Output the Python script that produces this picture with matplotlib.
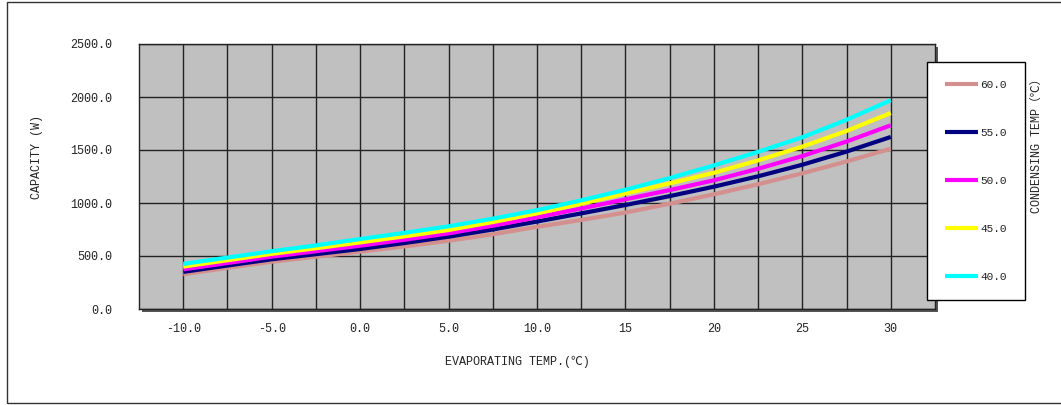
import matplotlib
matplotlib.use('Agg')
import matplotlib.pyplot as plt
from matplotlib.patches import Rectangle

# evaporating temperature (category axis, every 2.5 C)
evap_temp = [-10, -7.5, -5, -2.5, 0, 2.5, 5, 7.5, 10, 12.5, 15, 17.5, 20, 22.5, 25, 27.5, 30]

# capacity (W) per condensing temperature
cap_60 = [328, 388, 446, 493, 541, 590, 644, 705, 775, 840, 910, 993, 1082, 1177, 1280, 1392, 1512]
cap_55 = [350, 410, 469, 517, 566, 622, 682, 750, 825, 902, 981, 1065, 1154, 1252, 1361, 1485, 1623]
cap_50 = [374, 434, 494, 545, 597, 653, 714, 786, 865, 948, 1035, 1122, 1214, 1323, 1443, 1580, 1733]
cap_45 = [400, 460, 520, 573, 628, 685, 745, 820, 902, 993, 1090, 1185, 1285, 1402, 1532, 1680, 1849]
cap_40 = [425, 485, 545, 600, 660, 718, 780, 852, 932, 1025, 1125, 1235, 1355, 1483, 1620, 1785, 1970]

series_labels = ['60.0', '55.0', '50.0', '45.0', '40.0']
series_colors = ['#D4908E', '#000080', '#FF00FF', '#FFFF00', '#00FFFF']

x_ticks = [-10, -5, 0, 5, 10, 15, 20, 25, 30]
x_ticklabels = ['-10.0', '-5.0', '0.0', '5.0', '10.0', '15', '20', '25', '30']
y_ticks = [0, 500, 1000, 1500, 2000, 2500]
y_ticklabels = ['0.0', '500.0', '1000.0', '1500.0', '2000.0', '2500.0']

mono = ['Liberation Mono', 'DejaVu Sans Mono', 'Noto Sans CJK SC', 'DejaVu Sans']
txt_col = '#222222'

W, H = 1061, 405
fig = plt.figure(figsize=(W / 100, H / 100), dpi=100)
fig.patch.set_facecolor('white')

# outer chart border (right edge runs off the picture)
fig.patches.append(Rectangle((7 / W, 1 - 403 / H), 1.2, (403 - 2) / H,
                             transform=fig.transFigure, fill=False,
                             edgecolor='#333333', linewidth=1, zorder=0))

# plot area
left, right, top, bottom = 139, 935, 44, 309
ax = fig.add_axes([left / W, 1 - bottom / H, (right - left) / W, (bottom - top) / H])
ax.set_facecolor('#C0C0C0')

# shadow behind plot area
fig.patches.append(Rectangle(((left + 3) / W, 1 - (bottom + 3) / H), (right - left) / W,
                             (bottom - top) / H, transform=fig.transFigure,
                             facecolor='#555555', edgecolor='none', zorder=-1))

all_series = [cap_60, cap_55, cap_50, cap_45, cap_40]
for vals, lab, col in zip(all_series, series_labels, series_colors):
    ax.plot(evap_temp, vals, color=col, linewidth=3, label=lab,
            solid_capstyle='butt', zorder=3)

ax.set_xlim(-12.5, 32.5)
ax.set_ylim(0, 2500)
ax.set_xticks(evap_temp, minor=True)
ax.set_xticks(x_ticks)
ax.set_xticklabels(x_ticklabels, family=mono, fontsize=8.5, color=txt_col)
ax.set_yticks(y_ticks)
ax.set_yticklabels(y_ticklabels, family=mono, fontsize=8.5, color=txt_col)
ax.tick_params(axis='both', which='both', length=0)
ax.tick_params(axis='x', pad=10)
ax.tick_params(axis='y', pad=19)

ax.grid(True, which='both', axis='x', color='#222222', linewidth=1)
ax.grid(True, which='major', axis='y', color='#222222', linewidth=1)
ax.set_axisbelow(True)
for sp in ax.spines.values():
    sp.set_color('#222222')
    sp.set_linewidth(1)

# axis titles
fig.text(517 / W, 1 - 362 / H, 'EVAPORATING TEMP.(℃)', family=mono, fontsize=8.5,
         color=txt_col, ha='center', va='center')
fig.text(37 / W, 1 - 157 / H, 'CAPACITY (W)', family=mono, fontsize=8.5,
         color=txt_col, ha='center', va='center', rotation=90)
fig.text(1037 / W, 1 - 143 / H, 'CONDENSING TEMP（℃）', family=mono, fontsize=8.5,
         color=txt_col, ha='center', va='center', rotation=90)

leg = ax.legend(loc='upper left', bbox_to_anchor=(927 / W, 1 - 62 / H),
                bbox_transform=fig.transFigure, borderaxespad=0,
                prop={'family': mono, 'size': 8}, labelcolor=txt_col,
                handlelength=3.0, handletextpad=0.2, labelspacing=3.42,
                borderpad=1.6, fancybox=False, framealpha=1)
leg.get_frame().set_edgecolor('black')
leg.get_frame().set_linewidth(1)

fig.savefig('out.png', dpi=100, facecolor='white')
